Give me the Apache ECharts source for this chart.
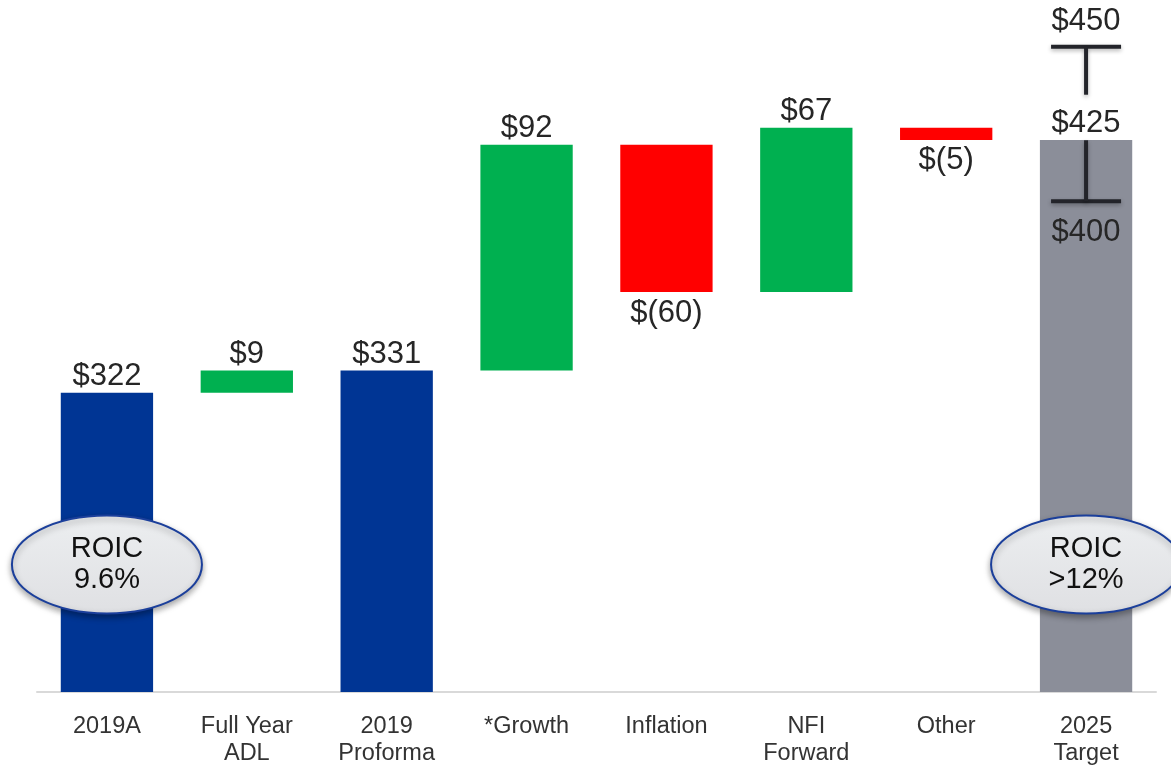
<!DOCTYPE html>
<html>
  <head>
    <meta charset="utf-8">
    <title></title>
    <style>
    html,body {margin:0;padding:0;background:#fff;}
    #chart {width:1171px;height:767px;}
    </style>
    <script src="https://cdn.jsdelivr.net/npm/echarts@6/dist/echarts.min.js"></script>
    <script>
    // waterfall data
    const categories=['2019A','Full Year\nADL','2019\nProforma','*Growth','Inflation','NFI\nForward','Other','2025\nTarget'];
    const changes=[322, 9, 331, 92, -60, 67, -5, 425];
    const kinds=['total','up','total','up','down','up','down','target'];
    const valueLabels=['$322','$9','$331','$92','$(60)','$67','$(5)','$425'];
    // range marker on the target bar (upper mark sits higher than scale in the original)
    const rangeValues=[400, 463];
    const rangeLabels=['$400','$450'];
    // ROIC bubbles
    const roicCats=[0, 7];
    const roicTexts=['ROIC\n9.6%','ROIC\n>12%'];
    const roicLevel=252;

    const yMin=200, yMax=480;
    const colors={total:'#003594', up:'#00b050', down:'#ff0000', target:'#8b8e99'};
    const FONT='"Liberation Sans", Arial, sans-serif';

    window.onload=function (){
      // build low/high for every bar from running total
      let run=0;
      const bars=changes.map((v,i)=>{
        let lo, hi;
        if(kinds[i]=='total' || kinds[i]=='target'){
          lo=0; hi=v; run=v;
        }else if(v>=0){
          lo=run; hi=run+v; run=hi;
        }else{
          lo=run+v; hi=run; run=lo;
        }
        return [i, lo, hi];
      });

      let chart=echarts.init(document.getElementById('chart'));

      let option={
        animation: false,
        grid: {left: 37, right: 15, top: 5, bottom: 70},
        xAxis: {
          type: 'category',
          data: categories,
          axisLine: {lineStyle: {color: '#d9d9d9', width: 2}},
          axisTick: {show: false},
          axisLabel: {fontFamily: FONT, fontSize: 23.5, color: '#333', lineHeight: 27, margin: 21, interval: 0}
        },
        yAxis: {
          type: 'value', min: yMin, max: yMax, show: false, splitLine: {show: false}
        },
        series: [
          {
            type: 'custom',
            data: bars,
            clip: false,
            z: 2,
            renderItem: function (params, api){
              const i=api.value(0);
              const lo=Math.max(api.value(1), yMin), hi=api.value(2);
              const top=api.coord([i, hi]);
              const bot=api.coord([i, lo]);
              const w=api.size([1, 0])[0]*0.66;
              const down=kinds[i]=='down';
              return {
                type: 'group',
                children: [
                  {
                    type: 'rect',
                    shape: {x: top[0]-w/2, y: top[1], width: w, height: bot[1]-top[1]},
                    style: {fill: colors[kinds[i]]}
                  },
                  {
                    type: 'text',
                    x: top[0],
                    y: down ? bot[1]+21 : top[1]-16,
                    style: {
                      text: valueLabels[i], fontFamily: FONT, fontSize: 31, fill: '#262626',
                      align: 'center', verticalAlign: 'middle'
                    }
                  }
                ]
              };
            }
          },
          {
            // target range marks
            type: 'custom',
            data: [[7, rangeValues[0], rangeValues[1]]],
            clip: false,
            z: 3,
            renderItem: function (params, api){
              const i=api.value(0);
              const pLo=api.coord([i, api.value(1)]);
              const pHi=api.coord([i, api.value(2)]);
              const hw=35;
              const ls={stroke: '#23242a', lineWidth: 4, shadowBlur: 4, shadowOffsetY: 2, shadowColor: 'rgba(0,0,0,0.3)'};
              return {
                type: 'group',
                children: [
                  {type: 'line', shape: {x1: pHi[0]-hw, y1: pHi[1], x2: pHi[0]+hw, y2: pHi[1]}, style: ls},
                  {type: 'line', shape: {x1: pHi[0], y1: pHi[1], x2: pHi[0], y2: pHi[1]+48}, style: ls},
                  {type: 'line', shape: {x1: pLo[0]-hw, y1: pLo[1], x2: pLo[0]+hw, y2: pLo[1]}, style: ls},
                  {type: 'line', shape: {x1: pLo[0], y1: pLo[1], x2: pLo[0], y2: pLo[1]-61}, style: ls},
                  {type: 'text', x: pHi[0], y: pHi[1]-25, style: {text: rangeLabels[1], fontFamily: FONT, fontSize: 31, fill: '#262626', align: 'center', verticalAlign: 'middle'}},
                  {type: 'text', x: pLo[0], y: pLo[1]+31, style: {text: rangeLabels[0], fontFamily: FONT, fontSize: 31, fill: '#262626', align: 'center', verticalAlign: 'middle'}}
                ]
              };
            }
          },
          {
            // ROIC bubbles
            type: 'custom',
            data: roicCats.map((c,k)=>[c, roicLevel, k]),
            clip: false,
            z: 4,
            renderItem: function (params, api){
              const p=api.coord([api.value(0), api.value(1)]);
              const k=api.value(2);
              return {
                type: 'group',
                children: [
                  {
                    type: 'ellipse',
                    shape: {cx: p[0], cy: p[1], rx: 95, ry: 49},
                    style: {
                      fill: new echarts.graphic.LinearGradient(0, 0, 0, 1, [
                        {offset: 0, color: '#eceef0'},
                        {offset: 1, color: '#dfe0e3'}
                      ]),
                      stroke: '#1b3f9b', lineWidth: 2,
                      shadowBlur: 6, shadowOffsetY: 3, shadowColor: 'rgba(0,0,0,0.35)'
                    }
                  },
                  {
                    type: 'text',
                    x: p[0], y: p[1],
                    style: {
                      text: roicTexts[k], fontFamily: FONT, fontSize: 29, lineHeight: 31,
                      fill: '#111', align: 'center', verticalAlign: 'middle'
                    }
                  }
                ]
              };
            }
          }
        ]
      };

      chart.setOption(option);
    };
    </script>
  </head>
  <body>
    <div id="chart"></div>
  </body>
</html>
